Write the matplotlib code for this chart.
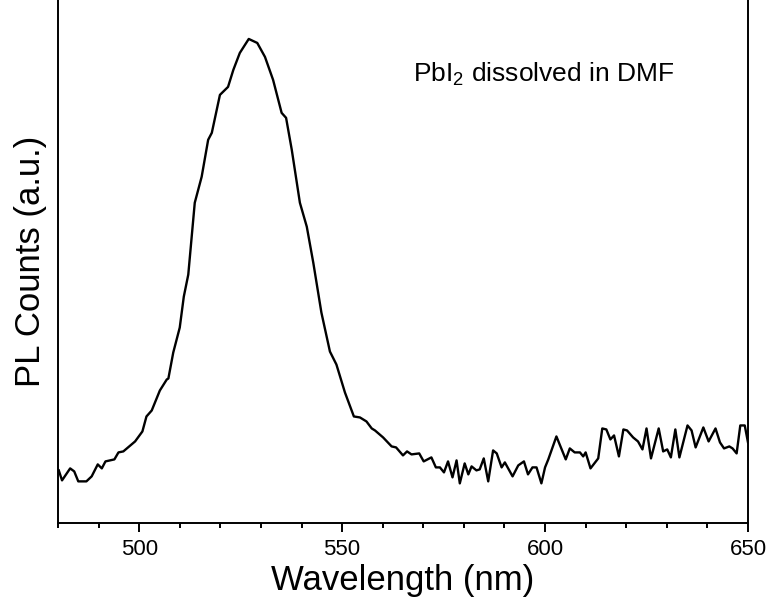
import matplotlib
matplotlib.use('Agg')
import matplotlib.pyplot as plt
from matplotlib.ticker import MultipleLocator

# PL spectrum (arbitrary units)
wavelength = [480.2, 481.0, 483.0, 484.0, 485.0, 487.0, 488.3, 489.8, 490.8, 491.7,
              493.9, 494.9, 496.1, 499.0, 500.8, 501.8, 503.1, 505.1, 506.8, 507.2,
              508.4, 510.0, 511.0, 512.1, 513.7, 515.4, 517.0, 517.9, 519.9, 521.9,
              523.2, 524.8, 527.0, 529.1, 531.0, 533.0, 535.1, 536.2, 537.6, 539.6,
              541.3, 542.9, 544.9, 547.0, 548.6, 550.7, 552.9, 554.4, 556.0, 557.3,
              558.1, 560.1, 562.2, 563.3, 565.0, 566.0, 567.1, 569.0, 570.1, 572.0,
              573.1, 574.1, 575.1, 576.1, 577.2, 578.2, 579.0, 580.2, 581.1, 581.9,
              583.1, 583.9, 584.9, 586.0, 587.2, 588.1, 589.3, 590.1, 592.0, 593.4,
              594.8, 595.8, 596.9, 597.9, 599.1, 600.0, 600.8, 602.8, 605.1, 606.1,
              607.3, 608.6, 609.4, 610.0, 611.2, 613.1, 614.1, 615.1, 616.1, 617.0,
              618.2, 619.3, 620.2, 621.7, 622.9, 624.0, 625.0, 626.1, 628.0, 629.1,
              630.1, 631.0, 632.1, 633.1, 635.1, 636.1, 637.1, 639.0, 640.3, 642.0,
              643.1, 644.1, 645.4, 646.2, 647.2, 648.1, 649.2, 650.0]
counts = [53, 43, 55, 52, 42, 42, 47, 59, 55, 62,
          64, 71, 72, 82, 92, 107, 113, 133, 144, 145,
          171, 196, 227, 249, 321, 347, 384, 391, 429, 437,
          454, 471, 485, 481, 467, 444, 411, 406, 374, 321,
          297, 261, 211, 172, 159, 131, 107, 106, 102, 95,
          93, 86, 77, 76, 68, 72, 69, 70, 62, 66,
          56, 56, 51, 62, 46, 63, 40, 60, 49, 57,
          53, 54, 65, 42, 73, 70, 56, 61, 47, 58,
          62, 49, 56, 56, 40, 56, 64, 87, 64, 75,
          71, 71, 67, 71, 55, 65, 95, 94, 84, 88,
          67, 94, 93, 86, 82, 74, 95, 65, 95, 72,
          74, 66, 94, 66, 98, 93, 76, 96, 82, 95,
          81, 75, 77, 75, 70, 98, 98, 81]

x_ticks = [500, 550, 600, 650]
note = r'$\mathrm{PbI_2}$ dissolved in DMF'

plt.rcParams['font.family'] = ['Liberation Sans', 'DejaVu Sans']
plt.rcParams['mathtext.fontset'] = 'custom'
plt.rcParams['mathtext.rm'] = 'Liberation Sans'
plt.rcParams['mathtext.it'] = 'Liberation Sans:italic'
plt.rcParams['mathtext.bf'] = 'Liberation Sans:bold'

fig = plt.figure(figsize=(7.72, 6.02), dpi=100)
ax = fig.add_axes([0.0751, 0.1307, 0.8938, 0.8693])

ax.plot(wavelength, counts, color='black', lw=1.7)

ax.set_xlim(480, 650)
ax.set_ylim(0, 524)
ax.set_xticks(x_ticks)
ax.xaxis.set_minor_locator(MultipleLocator(10))
ax.set_yticks([])

ax.spines['top'].set_visible(False)
for s in ['left', 'right', 'bottom']:
    ax.spines[s].set_linewidth(1.4)

ax.tick_params(axis='x', which='major', direction='out', length=6.5, width=1.4,
               labelsize=16, pad=5)
ax.tick_params(axis='x', which='minor', direction='out', length=3.5, width=1.4)

ax.set_xlabel('Wavelength (nm)', fontsize=25, labelpad=3)
ax.set_ylabel('PL Counts (a.u.)', fontsize=25, labelpad=8)

ax.text(567.5, 442, note, fontsize=19, ha='left', va='baseline')

fig.savefig('out.png', dpi=100)
